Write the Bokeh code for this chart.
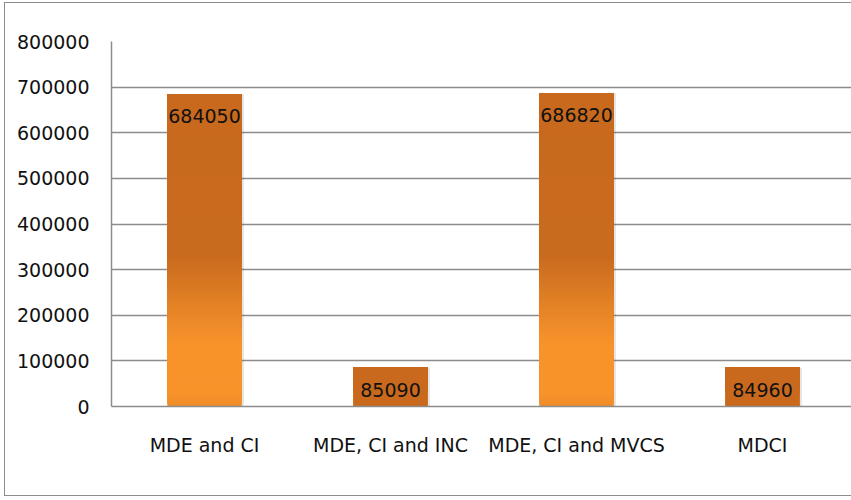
from bokeh.plotting import figure
from bokeh.models import FactorRange, Range1d, FixedTicker, NumeralTickFormatter, ColumnDataSource
from bokeh.transform import dodge
from bokeh.core.properties import value
from bokeh.embed import file_html
from bokeh.resources import INLINE

# ---- data ----
categories = ["MDE and CI", "MDE, CI and INC", "MDE, CI and MVCS", "MDCI"]
values = [684050, 85090, 686820, 84960]
y_ticks = [0, 100000, 200000, 300000, 400000, 500000, 600000, 700000, 800000]

FONT = "DejaVu Sans"
Y_MIN, Y_MAX = 0, 800000
FRAME_H = 365
BAR_W = 0.4
DARK = "#C8691D"

p = figure(
    x_range=FactorRange(*categories),
    y_range=Range1d(Y_MIN, Y_MAX),
    width=850, height=494,
    output_backend="svg", toolbar_location=None, tools="",
    min_border_left=106, min_border_right=0,
    min_border_top=38, min_border_bottom=91,
)
p.styles = {"border": "1px solid #8c8c8c", "margin-left": "4px", "margin-top": "2px"}
p.outline_line_color = None
p.background_fill_color = "white"
p.border_fill_color = "white"

# gradient helper
stops = [(0.0, (0xEE, 0x8B, 0x2A)), (0.04, (0xF8, 0x93, 0x2B)), (0.2, (0xF8, 0x93, 0x2B)),
         (0.48, (0xC9, 0x6B, 0x1E)), (1.0, (0xC8, 0x69, 0x1D))]


def grad(f):
    for (f0, c0), (f1, c1) in zip(stops[:-1], stops[1:]):
        if f0 <= f <= f1:
            t = (f - f0) / (f1 - f0)
            r, g, b = (round(a + (bb - a) * t) for a, bb in zip(c0, c1))
            return "#%02x%02x%02x" % (r, g, b)
    return DARK


# shadow
shadow = ColumnDataSource(dict(cat=categories, val=values))
p.vbar(x=dodge("cat", 0.012, range=p.x_range), top="val", bottom=0, width=BAR_W,
       source=shadow, fill_color="black", fill_alpha=0.10, line_color=None)

# gradient bars: overlapping layers, each reaching the bar top
N = 120
sx, sb, st, sc = [], [], [], []
for c, v in zip(categories, values):
    for i in range(N):
        f0 = i / N
        sx.append(c)
        sb.append(v * f0)
        st.append(v)
        sc.append(grad(f0 + 0.5 / N))
seg = ColumnDataSource(dict(x=sx, b=sb, t=st, c=sc))
p.vbar(x="x", bottom="b", top="t", width=BAR_W, fill_color="c", line_color=None,
       source=seg)

# label boxes (dark fill behind the data labels)
box_h = (Y_MAX - Y_MIN) * 40 / FRAME_H
boxes = ColumnDataSource(dict(cat=categories, top=values,
                              bottom=[max(0, v - box_h) for v in values],
                              mid=[v - box_h * 0.55 for v in values],
                              label=[str(v) for v in values]))
p.vbar(x="cat", top="top", bottom="bottom", width=BAR_W, fill_color=DARK,
       line_color=None, source=boxes)
p.text(x="cat", y="mid", text="label", source=boxes, text_align="center",
       text_baseline="middle", text_font=value(FONT), text_font_size="19px",
       text_color="#111111")

# axes & grid
p.yaxis.ticker = FixedTicker(ticks=y_ticks)
p.yaxis.formatter = NumeralTickFormatter(format="0")
for ax in (p.xaxis, p.yaxis):
    ax.major_tick_line_color = None
    ax.minor_tick_line_color = None
    ax.axis_line_color = "#8c8c8c"
    ax.axis_line_width = 1.5
    ax.major_label_text_font = FONT
    ax.major_label_text_font_size = "19px"
    ax.major_label_text_color = "#111111"
p.yaxis.major_label_standoff = 16
p.xaxis.major_label_standoff = 21
p.xgrid.grid_line_color = None
p.ygrid.grid_line_color = "#8c8c8c"
p.ygrid.grid_line_width = 1.5

open("out.html", "w").write(file_html(p, INLINE))
